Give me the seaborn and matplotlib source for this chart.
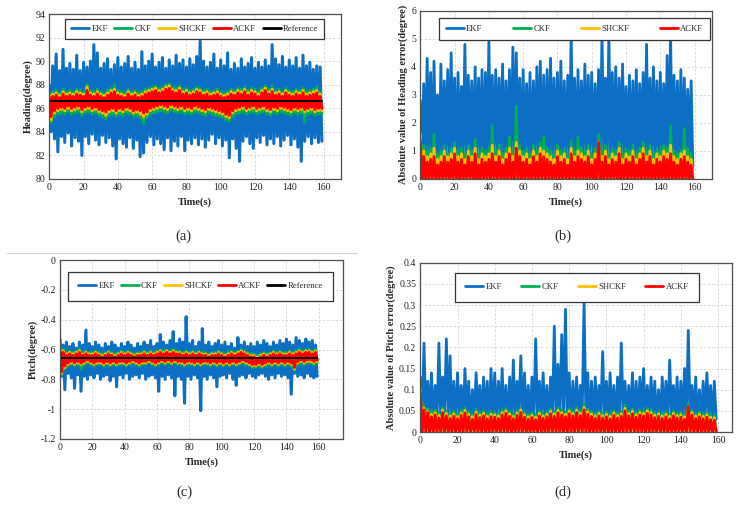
import numpy as np
import matplotlib
matplotlib.use('Agg')
import matplotlib.pyplot as plt
from matplotlib.lines import Line2D
import seaborn as sns

# ---- DATA (hi = sample at even second, lo = next odd second) ----
times = np.arange(0, 160, 2)

filters = ['EKF', 'CKF', 'SHCKF', 'ACKF']
colors = {'EKF': '#0b6fc4', 'CKF': '#00b050', 'SHCKF': '#ffc000', 'ACKF': '#ff0000', 'Reference': '#000000'}

# (a) heading
hdg_reference = 86.65
hdg_ekf_hi = [88.0, 89.6, 90.6, 89.2, 91.0, 89.4, 89.8, 89.3, 90.5, 89.2,
              89.9, 89.5, 90.0, 91.4, 90.7, 89.4, 89.8, 90.2, 89.3, 89.7,
              90.3, 89.5, 89.8, 90.4, 89.4, 89.9, 89.3, 90.8, 89.6, 90.0,
              90.6, 89.5, 89.9, 90.3, 89.4, 90.1, 89.6, 90.5, 89.8, 90.1,
              89.5, 90.2, 89.7, 90.4, 91.7, 90.0, 89.5, 89.9, 90.6, 89.4,
              90.1, 89.6, 90.7, 89.3, 89.8, 89.4, 90.2, 89.5, 89.8, 90.3,
              89.4, 89.9, 89.5, 90.1, 89.6, 91.4, 90.2, 89.7, 90.4, 89.5,
              90.1, 89.6, 90.3, 89.4, 90.5, 89.6, 89.9, 89.3, 89.6, 89.5]
hdg_ekf_lo = [84.0, 83.4, 82.3, 83.6, 83.1, 83.9, 82.8, 83.5, 83.2, 82.0,
              83.6, 83.0, 83.8, 83.3, 82.9, 83.7, 83.1, 83.5, 82.8, 81.7,
              83.4, 83.0, 82.7, 83.5, 82.6, 83.3, 81.9, 82.2, 83.1, 83.6,
              82.9, 83.4, 83.0, 82.5, 83.5, 82.4, 83.2, 82.8, 83.6, 82.4,
              83.3, 83.0, 83.5, 82.9, 83.4, 82.7, 83.3, 83.8, 83.0, 83.5,
              82.8, 83.3, 81.8, 83.4, 82.6, 81.5, 83.2, 83.6, 83.0, 82.6,
              83.5, 83.1, 83.7, 82.9, 83.4, 83.0, 83.6, 82.8, 83.3, 83.7,
              82.9, 83.4, 82.7, 81.5, 83.2, 83.6, 83.0, 83.5, 83.1, 83.2]
hdg_ckf_hi = [87.3, 87.4, 87.5, 87.3, 87.6, 87.4, 87.5, 87.4, 87.6, 87.5,
              87.4, 88.0, 87.5, 87.4, 87.6, 87.4, 87.3, 87.5, 87.7, 88.0,
              87.5, 87.4, 87.3, 87.6, 87.4, 87.5, 87.3, 87.4, 87.6, 87.7,
              87.8, 87.9, 87.7, 87.8, 88.0, 88.1, 87.8, 87.7, 87.9, 87.6,
              87.7, 87.5, 87.6, 87.8, 87.7, 87.5, 87.6, 87.4, 87.5, 87.6,
              87.4, 87.3, 87.4, 87.6, 87.5, 87.7, 87.6, 87.8, 87.5, 87.7,
              87.6, 87.4, 87.7, 87.9, 87.6, 87.9, 87.5, 87.6, 87.4, 87.7,
              87.5, 87.4, 87.6, 87.5, 87.7, 87.4, 87.5, 87.6, 87.8, 87.4]
hdg_ckf_lo = [84.8, 85.3, 85.5, 85.6, 85.5, 85.7, 85.5, 85.6, 85.7, 85.4,
              85.6, 85.7, 85.5, 85.6, 85.4, 85.3, 85.1, 85.4, 85.5, 85.3,
              85.5, 85.4, 85.6, 85.5, 85.3, 85.4, 85.2, 84.7, 85.2, 85.5,
              85.6, 85.7, 85.8, 85.7, 85.6, 85.8, 85.7, 85.6, 85.7, 85.5,
              85.6, 85.5, 85.7, 85.6, 85.5, 85.4, 85.6, 85.5, 85.4, 85.3,
              85.2, 85.0, 84.9, 85.3, 85.5, 85.6, 85.7, 85.5, 85.6, 85.7,
              85.5, 85.6, 85.7, 85.5, 85.4, 85.6, 85.5, 85.7, 85.6, 85.5,
              85.4, 85.6, 85.5, 85.6, 84.8, 85.5, 85.6, 85.4, 85.5, 85.5]
hdg_shckf_hi = [87.1, 87.2, 87.3, 87.1, 87.4, 87.2, 87.3, 87.2, 87.4, 87.3,
                87.2, 87.8, 87.3, 87.2, 87.4, 87.2, 87.1, 87.3, 87.5, 87.6,
                87.3, 87.2, 87.1, 87.4, 87.2, 87.3, 87.1, 87.2, 87.4, 87.5,
                87.6, 87.7, 87.5, 87.6, 87.8, 87.9, 87.6, 87.5, 87.7, 87.4,
                87.5, 87.3, 87.4, 87.6, 87.5, 87.3, 87.4, 87.2, 87.3, 87.4,
                87.2, 87.1, 87.2, 87.4, 87.3, 87.5, 87.4, 87.6, 87.3, 87.5,
                87.4, 87.2, 87.5, 87.7, 87.4, 87.6, 87.3, 87.4, 87.2, 87.5,
                87.3, 87.2, 87.4, 87.3, 87.5, 87.2, 87.3, 87.4, 87.5, 87.2]
hdg_shckf_lo = [85.0, 85.6, 85.8, 85.9, 85.8, 86.0, 85.8, 85.9, 86.0, 85.7,
                85.9, 86.0, 85.8, 85.9, 85.7, 85.6, 85.4, 85.7, 85.8, 85.6,
                85.8, 85.7, 85.9, 85.8, 85.6, 85.7, 85.5, 85.3, 85.5, 85.8,
                85.9, 86.0, 86.1, 86.0, 85.9, 86.1, 86.0, 85.9, 86.0, 85.8,
                85.9, 85.8, 86.0, 85.9, 85.8, 85.7, 85.9, 85.8, 85.7, 85.6,
                85.5, 85.3, 85.2, 85.6, 85.8, 85.9, 86.0, 85.8, 85.9, 86.0,
                85.8, 85.9, 86.0, 85.8, 85.7, 85.9, 85.8, 86.0, 85.9, 85.8,
                85.7, 85.9, 85.8, 85.9, 85.7, 85.8, 85.9, 85.7, 85.8, 85.8]
hdg_ackf_hi = [86.9, 87.0, 87.1, 86.9, 87.2, 87.0, 87.1, 87.0, 87.2, 87.1,
               87.0, 87.5, 87.1, 87.0, 87.2, 87.0, 86.9, 87.1, 87.3, 87.4,
               87.1, 87.0, 86.9, 87.2, 87.0, 87.1, 86.9, 87.0, 87.2, 87.3,
               87.4, 87.5, 87.3, 87.4, 87.6, 87.7, 87.4, 87.3, 87.5, 87.2,
               87.3, 87.1, 87.2, 87.4, 87.3, 87.1, 87.2, 87.0, 87.1, 87.2,
               87.0, 86.9, 87.0, 87.2, 87.1, 87.3, 87.2, 87.4, 87.1, 87.3,
               87.2, 87.0, 87.3, 87.5, 87.2, 87.4, 87.1, 87.2, 87.0, 87.3,
               87.1, 87.0, 87.2, 87.1, 87.3, 87.0, 87.1, 87.2, 87.3, 87.0]
hdg_ackf_lo = [85.3, 85.8, 86.0, 86.1, 86.0, 86.2, 86.0, 86.1, 86.2, 85.9,
               86.1, 86.2, 86.0, 86.1, 85.9, 85.8, 85.7, 85.9, 86.0, 85.8,
               86.0, 85.9, 86.1, 86.0, 85.8, 85.9, 85.8, 85.6, 85.7, 86.0,
               86.1, 86.2, 86.3, 86.2, 86.1, 86.3, 86.2, 86.1, 86.2, 86.0,
               86.1, 86.0, 86.2, 86.1, 86.0, 85.9, 86.1, 86.0, 85.9, 85.8,
               85.7, 85.5, 85.4, 85.8, 86.0, 86.1, 86.2, 86.0, 86.1, 86.2,
               86.0, 86.1, 86.2, 86.0, 85.9, 86.1, 86.0, 86.2, 86.1, 86.0,
               85.9, 86.1, 86.0, 86.1, 85.9, 86.0, 86.1, 85.9, 86.0, 86.0]

# (b) absolute heading error (peaks; troughs reach zero for the filtered ones)
err_floor = 0.0
herr_ekf_hi = [2.8, 3.4, 4.3, 3.8, 4.2, 3.0, 4.1, 3.5, 3.9, 4.5,
               3.6, 3.8, 3.3, 4.8, 3.7, 3.5, 4.0, 3.6, 3.9, 3.8,
               4.9, 3.7, 3.9, 3.6, 4.1, 3.5, 3.9, 4.7, 4.5, 3.6,
               3.9, 3.4, 3.8, 3.5, 4.0, 4.2, 3.7, 3.9, 4.3, 3.6,
               3.8, 4.2, 3.5, 3.7, 5.2, 3.6, 3.9, 3.5, 4.1, 3.7,
               3.8, 3.4, 3.9, 5.2, 3.6, 5.2, 3.8, 4.0, 3.6, 4.1,
               3.3, 3.7, 3.5, 3.9, 3.4, 3.8, 4.8, 3.6, 4.0, 3.5,
               3.8, 3.4, 4.4, 5.2, 3.7, 3.5, 3.9, 3.6, 3.2, 3.5]
herr_ekf_lo = [0.6, 0.4, 0.8, 0.5, 0.7, 0.3, 0.6, 0.9, 0.5, 0.7,
               0.4, 0.8, 0.6, 0.5, 0.7, 0.3, 0.6, 0.8, 0.5, 0.4,
               0.7, 0.5, 0.9, 0.6, 0.4, 0.7, 0.5, 0.8, 0.6, 0.3,
               0.5, 0.7, 0.4, 0.8, 0.6, 0.5, 0.7, 0.4, 0.6, 0.8,
               0.5, 0.3, 0.7, 0.6, 0.8, 0.4, 0.6, 0.5, 0.7, 0.9,
               0.4, 0.6, 0.5, 0.8, 0.3, 0.7, 0.6, 0.4, 0.8, 0.5,
               0.7, 0.5, 0.6, 0.4, 0.8, 0.6, 0.3, 0.7, 0.5, 0.6,
               0.8, 0.4, 0.6, 0.5, 0.7, 0.3, 0.6, 0.8, 0.5, 0.4]
herr_ckf_hi = [1.7, 1.2, 1.0, 1.1, 1.6, 0.9, 1.0, 1.2, 0.9, 1.1,
               1.3, 1.0, 1.1, 0.9, 1.2, 1.0, 1.4, 0.9, 1.1, 1.0,
               1.1, 1.9, 1.0, 1.2, 0.9, 1.1, 1.5, 1.0, 2.6, 1.2,
               1.0, 1.1, 0.9, 1.2, 1.0, 1.3, 1.5, 1.1, 1.0, 0.9,
               1.2, 1.0, 1.1, 0.9, 1.3, 1.0, 1.5, 1.1, 1.0, 1.2,
               0.9, 1.1, 1.6, 1.0, 1.2, 0.9, 1.1, 1.0, 1.3, 0.9,
               1.1, 1.0, 1.2, 0.9, 1.1, 1.3, 1.0, 1.2, 0.9, 1.1,
               1.0, 1.2, 1.1, 1.9, 1.0, 0.9, 1.0, 1.8, 1.1, 0.9]
herr_shckf_hi = [1.6, 1.0, 0.8, 0.9, 1.1, 0.7, 0.8, 1.0, 0.8, 0.9,
                 1.1, 0.8, 0.9, 0.7, 1.0, 0.8, 1.1, 0.7, 0.9, 0.8,
                 0.9, 1.2, 0.8, 1.0, 0.7, 0.9, 1.1, 0.8, 1.3, 1.0,
                 0.8, 0.9, 0.7, 1.0, 0.8, 1.1, 1.0, 0.9, 0.8, 0.7,
                 1.0, 0.8, 0.9, 0.7, 1.1, 0.8, 1.0, 0.9, 0.8, 1.0,
                 0.7, 0.9, 1.3, 0.8, 1.0, 0.7, 0.9, 0.8, 1.1, 0.7,
                 0.9, 0.8, 1.0, 0.7, 0.9, 1.1, 0.8, 1.0, 0.7, 0.9,
                 0.8, 1.0, 0.9, 1.2, 0.8, 0.7, 0.9, 1.0, 0.8, 0.7]
herr_ackf_hi = [1.4, 0.8, 0.6, 0.7, 0.8, 0.5, 0.6, 0.8, 0.6, 0.7,
                0.9, 0.6, 0.7, 0.5, 0.8, 0.6, 0.9, 0.5, 0.7, 0.6,
                0.7, 0.9, 0.6, 0.8, 0.5, 0.7, 0.9, 0.6, 1.1, 0.8,
                0.6, 0.7, 0.5, 0.8, 0.6, 0.9, 0.8, 0.7, 0.6, 0.5,
                0.8, 0.6, 0.7, 0.5, 0.9, 0.6, 0.8, 0.7, 0.6, 0.8,
                0.5, 0.7, 1.3, 0.6, 0.8, 0.5, 0.7, 0.6, 0.9, 0.5,
                0.7, 0.6, 0.8, 0.5, 0.7, 0.9, 0.6, 0.8, 0.5, 0.7,
                0.6, 0.8, 0.7, 0.9, 0.6, 0.5, 0.7, 0.8, 0.6, 0.5]

# (c) pitch
pit_reference = -0.655
pit_ekf_hi = [-0.53, -0.57, -0.55, -0.58, -0.56, -0.59, -0.55, -0.57, -0.47, -0.56,
              -0.58, -0.55, -0.57, -0.59, -0.56, -0.58, -0.55, -0.57, -0.59, -0.56,
              -0.58, -0.55, -0.57, -0.59, -0.56, -0.58, -0.55, -0.57, -0.54, -0.58,
              -0.56, -0.50, -0.55, -0.57, -0.54, -0.48, -0.56, -0.53, -0.55, -0.38,
              -0.56, -0.54, -0.58, -0.55, -0.46, -0.57, -0.55, -0.58, -0.56, -0.54,
              -0.57, -0.55, -0.58, -0.56, -0.59, -0.52, -0.57, -0.55, -0.58, -0.56,
              -0.58, -0.55, -0.57, -0.54, -0.56, -0.58, -0.55, -0.57, -0.54, -0.56,
              -0.53, -0.55, -0.57, -0.52, -0.54, -0.56, -0.53, -0.55, -0.54, -0.57]
pit_ekf_lo = [-0.78, -0.87, -0.76, -0.79, -0.86, -0.77, -0.88, -0.78, -0.80, -0.77,
              -0.79, -0.76, -0.80, -0.78, -0.77, -0.81, -0.78, -0.85, -0.77, -0.79,
              -0.76, -0.80, -0.78, -0.77, -0.79, -0.76, -0.80, -0.78, -0.77, -0.79,
              -0.88, -0.78, -0.80, -0.77, -0.79, -0.91, -0.78, -0.80, -0.96, -0.78,
              -0.80, -0.77, -0.79, -1.01, -0.78, -0.80, -0.77, -0.79, -0.85, -0.78,
              -0.77, -0.79, -0.76, -0.80, -0.84, -0.78, -0.77, -0.79, -0.76, -0.78,
              -0.79, -0.77, -0.76, -0.78, -0.80, -0.77, -0.79, -0.76, -0.78, -0.77,
              -0.79, -0.90, -0.76, -0.78, -0.77, -0.79, -0.76, -0.78, -0.79, -0.78]
pit_ckf_hi = [-0.59, -0.60, -0.62, -0.61, -0.62, -0.61, -0.60, -0.62, -0.61, -0.62,
              -0.62, -0.61, -0.62, -0.63, -0.62, -0.61, -0.62, -0.63, -0.62, -0.61,
              -0.62, -0.61, -0.62, -0.63, -0.62, -0.62, -0.61, -0.62, -0.61, -0.62,
              -0.61, -0.60, -0.61, -0.60, -0.61, -0.60, -0.61, -0.61, -0.62, -0.61,
              -0.62, -0.61, -0.62, -0.61, -0.62, -0.62, -0.63, -0.62, -0.62, -0.61,
              -0.62, -0.63, -0.62, -0.61, -0.62, -0.61, -0.60, -0.61, -0.62, -0.63,
              -0.63, -0.64, -0.63, -0.62, -0.63, -0.62, -0.61, -0.62, -0.61, -0.62,
              -0.62, -0.61, -0.62, -0.61, -0.60, -0.61, -0.60, -0.60, -0.61, -0.60]
pit_ckf_lo = [-0.77, -0.73, -0.71, -0.70, -0.71, -0.70, -0.73, -0.70, -0.69, -0.70,
              -0.71, -0.70, -0.70, -0.71, -0.70, -0.71, -0.70, -0.71, -0.70, -0.70,
              -0.71, -0.70, -0.69, -0.70, -0.71, -0.70, -0.70, -0.69, -0.70, -0.71,
              -0.70, -0.69, -0.70, -0.69, -0.70, -0.69, -0.70, -0.70, -0.71, -0.70,
              -0.70, -0.71, -0.70, -0.71, -0.70, -0.70, -0.71, -0.70, -0.71, -0.70,
              -0.71, -0.70, -0.71, -0.70, -0.71, -0.70, -0.69, -0.70, -0.71, -0.72,
              -0.72, -0.71, -0.72, -0.71, -0.70, -0.71, -0.70, -0.71, -0.70, -0.71,
              -0.70, -0.71, -0.74, -0.70, -0.69, -0.70, -0.69, -0.69, -0.70, -0.69]
pit_shckf_hi = [-0.60, -0.61, -0.63, -0.62, -0.63, -0.62, -0.61, -0.63, -0.62, -0.63,
                -0.63, -0.62, -0.63, -0.64, -0.63, -0.62, -0.63, -0.64, -0.63, -0.62,
                -0.63, -0.62, -0.63, -0.64, -0.63, -0.63, -0.62, -0.63, -0.62, -0.63,
                -0.62, -0.61, -0.62, -0.61, -0.62, -0.61, -0.62, -0.62, -0.63, -0.62,
                -0.63, -0.62, -0.63, -0.62, -0.63, -0.63, -0.64, -0.63, -0.63, -0.62,
                -0.63, -0.64, -0.63, -0.62, -0.63, -0.62, -0.61, -0.62, -0.63, -0.64,
                -0.64, -0.65, -0.64, -0.63, -0.64, -0.63, -0.62, -0.63, -0.62, -0.63,
                -0.63, -0.62, -0.63, -0.62, -0.61, -0.62, -0.61, -0.61, -0.62, -0.61]
pit_shckf_lo = [-0.76, -0.72, -0.70, -0.69, -0.70, -0.69, -0.70, -0.69, -0.68, -0.69,
                -0.70, -0.69, -0.69, -0.70, -0.69, -0.70, -0.69, -0.70, -0.69, -0.69,
                -0.70, -0.69, -0.68, -0.69, -0.70, -0.69, -0.69, -0.68, -0.69, -0.70,
                -0.69, -0.68, -0.69, -0.68, -0.69, -0.68, -0.69, -0.69, -0.70, -0.69,
                -0.69, -0.70, -0.69, -0.70, -0.69, -0.69, -0.70, -0.69, -0.70, -0.69,
                -0.70, -0.69, -0.70, -0.69, -0.70, -0.69, -0.68, -0.69, -0.70, -0.71,
                -0.71, -0.70, -0.71, -0.70, -0.69, -0.70, -0.69, -0.70, -0.69, -0.70,
                -0.69, -0.70, -0.73, -0.69, -0.68, -0.69, -0.68, -0.68, -0.69, -0.68]
pit_ackf_hi = [-0.61, -0.62, -0.64, -0.63, -0.64, -0.63, -0.62, -0.64, -0.63, -0.64,
               -0.64, -0.63, -0.64, -0.65, -0.64, -0.63, -0.64, -0.65, -0.64, -0.63,
               -0.64, -0.63, -0.64, -0.65, -0.64, -0.64, -0.63, -0.64, -0.63, -0.64,
               -0.63, -0.62, -0.63, -0.62, -0.63, -0.62, -0.63, -0.63, -0.64, -0.63,
               -0.64, -0.63, -0.64, -0.63, -0.64, -0.64, -0.65, -0.64, -0.64, -0.63,
               -0.64, -0.65, -0.64, -0.63, -0.64, -0.63, -0.62, -0.63, -0.64, -0.65,
               -0.65, -0.66, -0.65, -0.64, -0.65, -0.64, -0.63, -0.64, -0.63, -0.64,
               -0.64, -0.63, -0.64, -0.63, -0.62, -0.63, -0.62, -0.62, -0.63, -0.62]
pit_ackf_lo = [-0.75, -0.71, -0.69, -0.68, -0.69, -0.68, -0.69, -0.68, -0.67, -0.68,
               -0.69, -0.68, -0.68, -0.69, -0.68, -0.69, -0.68, -0.69, -0.68, -0.68,
               -0.69, -0.68, -0.67, -0.68, -0.69, -0.68, -0.68, -0.67, -0.68, -0.69,
               -0.68, -0.67, -0.68, -0.67, -0.68, -0.67, -0.68, -0.68, -0.69, -0.68,
               -0.68, -0.69, -0.68, -0.69, -0.68, -0.68, -0.69, -0.68, -0.69, -0.68,
               -0.69, -0.68, -0.69, -0.68, -0.69, -0.68, -0.67, -0.68, -0.69, -0.70,
               -0.70, -0.69, -0.70, -0.69, -0.68, -0.69, -0.68, -0.69, -0.68, -0.69,
               -0.68, -0.69, -0.72, -0.68, -0.67, -0.68, -0.67, -0.67, -0.68, -0.67]

# (d) absolute pitch error
perr_ekf_hi = [0.13, 0.21, 0.12, 0.14, 0.11, 0.21, 0.13, 0.22, 0.18, 0.12,
               0.14, 0.11, 0.15, 0.12, 0.10, 0.14, 0.11, 0.13, 0.12, 0.15,
               0.14, 0.12, 0.15, 0.11, 0.13, 0.17, 0.12, 0.18, 0.14, 0.11,
               0.13, 0.22, 0.12, 0.14, 0.11, 0.13, 0.25, 0.16, 0.23, 0.29,
               0.14, 0.12, 0.13, 0.11, 0.31, 0.14, 0.12, 0.13, 0.11, 0.19,
               0.12, 0.14, 0.11, 0.13, 0.21, 0.12, 0.11, 0.14, 0.12, 0.13,
               0.15, 0.11, 0.13, 0.12, 0.10, 0.13, 0.12, 0.17, 0.11, 0.13,
               0.12, 0.15, 0.24, 0.11, 0.13, 0.10, 0.12, 0.14, 0.11, 0.12]
perr_ekf_lo = [0.03, 0.02, 0.04, 0.01, 0.03, 0.02, 0.04, 0.03, 0.01, 0.02,
               0.04, 0.02, 0.03, 0.01, 0.03, 0.04, 0.02, 0.03, 0.01, 0.02,
               0.03, 0.04, 0.02, 0.01, 0.03, 0.02, 0.04, 0.03, 0.02, 0.01,
               0.02, 0.03, 0.04, 0.02, 0.01, 0.03, 0.02, 0.04, 0.03, 0.02,
               0.01, 0.03, 0.02, 0.04, 0.03, 0.01, 0.02, 0.03, 0.04, 0.02,
               0.03, 0.02, 0.01, 0.03, 0.04, 0.02, 0.03, 0.01, 0.02, 0.04,
               0.02, 0.03, 0.04, 0.01, 0.02, 0.03, 0.02, 0.04, 0.03, 0.01,
               0.03, 0.02, 0.04, 0.03, 0.01, 0.02, 0.03, 0.04, 0.02, 0.03]
perr_ckf_hi = [0.100, 0.062, 0.055, 0.048, 0.052, 0.045, 0.058, 0.050, 0.044, 0.049,
               0.043, 0.051, 0.057, 0.048, 0.042, 0.053, 0.046, 0.050, 0.043, 0.048,
               0.047, 0.044, 0.052, 0.056, 0.049, 0.043, 0.051, 0.058, 0.047, 0.042,
               0.046, 0.041, 0.050, 0.044, 0.048, 0.055, 0.049, 0.057, 0.052, 0.048,
               0.055, 0.050, 0.058, 0.051, 0.066, 0.054, 0.049, 0.044, 0.050, 0.045,
               0.048, 0.043, 0.051, 0.045, 0.049, 0.064, 0.050, 0.055, 0.047, 0.052,
               0.050, 0.056, 0.052, 0.046, 0.049, 0.044, 0.048, 0.043, 0.050, 0.045,
               0.047, 0.042, 0.066, 0.052, 0.044, 0.048, 0.043, 0.047, 0.041, 0.040]
perr_shckf_hi = [0.098, 0.056, 0.049, 0.042, 0.046, 0.039, 0.052, 0.044, 0.038, 0.043,
                 0.037, 0.045, 0.051, 0.042, 0.036, 0.047, 0.040, 0.044, 0.037, 0.042,
                 0.041, 0.038, 0.046, 0.050, 0.043, 0.037, 0.045, 0.052, 0.041, 0.036,
                 0.040, 0.035, 0.044, 0.038, 0.042, 0.049, 0.043, 0.051, 0.046, 0.042,
                 0.049, 0.044, 0.052, 0.045, 0.058, 0.048, 0.043, 0.038, 0.044, 0.039,
                 0.042, 0.037, 0.045, 0.039, 0.043, 0.056, 0.044, 0.049, 0.041, 0.046,
                 0.044, 0.050, 0.046, 0.040, 0.043, 0.038, 0.042, 0.037, 0.044, 0.039,
                 0.041, 0.036, 0.060, 0.046, 0.038, 0.042, 0.037, 0.041, 0.035, 0.034]
perr_ackf_hi = [0.095, 0.052, 0.046, 0.036, 0.040, 0.033, 0.046, 0.038, 0.032, 0.037,
                0.031, 0.039, 0.045, 0.036, 0.030, 0.041, 0.034, 0.038, 0.031, 0.036,
                0.035, 0.032, 0.040, 0.044, 0.037, 0.031, 0.039, 0.046, 0.035, 0.030,
                0.034, 0.029, 0.038, 0.032, 0.036, 0.043, 0.037, 0.045, 0.040, 0.036,
                0.043, 0.038, 0.046, 0.039, 0.052, 0.042, 0.037, 0.032, 0.038, 0.033,
                0.036, 0.031, 0.039, 0.033, 0.037, 0.050, 0.038, 0.043, 0.035, 0.040,
                0.038, 0.044, 0.040, 0.034, 0.037, 0.032, 0.036, 0.031, 0.038, 0.033,
                0.035, 0.030, 0.060, 0.040, 0.032, 0.036, 0.031, 0.035, 0.029, 0.028]

x_ticks = [0, 20, 40, 60, 80, 100, 120, 140, 160]


def zigzag(hi, lo):
    # peaks at the even seconds, troughs at the following odd seconds
    t = np.empty(2 * len(times))
    y = np.empty(2 * len(times))
    t[0::2] = times
    t[1::2] = times + 1
    y[0::2] = hi
    y[1::2] = lo
    return t, y


# ---- STYLE ----
sns.set_theme(style='white')
plt.rcParams['font.family'] = ['Liberation Serif', 'DejaVu Serif']
plt.rcParams['axes.unicode_minus'] = False

fig = plt.figure(figsize=(7.42, 5.13), dpi=100)
W, H = 742, 513


def make_axes(left, top, right, bottom):
    return fig.add_axes([left / W, 1 - bottom / H, (right - left) / W, (bottom - top) / H])


def style_axes(ax, xmax, yticks, ylabel):
    ax.set_xlim(0, xmax)
    ax.set_ylim(yticks[0], yticks[-1])
    ax.set_xticks(x_ticks)
    ax.set_yticks(yticks)
    ax.set_yticklabels(['{:g}'.format(v) for v in yticks])
    ax.grid(True, color='#d6d6d6', linestyle=(0, (3, 2)), linewidth=0.6)
    ax.set_axisbelow(True)
    for s in ax.spines.values():
        s.set_color('#4d4d4d')
        s.set_linewidth(0.9)
    ax.tick_params(length=0, pad=3, labelsize=7, colors='#222222')
    ax.set_xlabel('Time(s)', fontsize=7.5, fontweight='bold', labelpad=4)
    ax.set_ylabel(ylabel, fontsize=7.5, fontweight='bold', labelpad=2)


def add_legend(ax, names, bbox, pad):
    handles = [Line2D([], [], color=colors[n], lw=2) for n in names]
    leg = ax.legend(handles, names, ncol=len(names), loc='upper left', bbox_to_anchor=bbox,
                    mode='expand', fontsize=6.2, handlelength=2.1, handletextpad=0.25,
                    borderpad=pad, frameon=True, fancybox=False, framealpha=1,
                    borderaxespad=0)
    leg.get_frame().set_edgecolor('#333333')
    leg.get_frame().set_linewidth(0.9)


def band_panel(ax, series, lw):
    for name, hi, lo in series:
        t, y = zigzag(hi, lo)
        sns.lineplot(x=t, y=y, estimator=None, sort=False, color=colors[name],
                     linewidth=lw, ax=ax, legend=False)


# (a)
ax_a = make_axes(49.3, 14, 340.7, 179)
band_panel(ax_a, [('EKF', hdg_ekf_hi, hdg_ekf_lo), ('CKF', hdg_ckf_hi, hdg_ckf_lo),
                  ('SHCKF', hdg_shckf_hi, hdg_shckf_lo), ('ACKF', hdg_ackf_hi, hdg_ackf_lo)], 2.2)
sns.lineplot(x=[times[0], times[-1] + 1], y=[hdg_reference, hdg_reference], color='black',
             linewidth=1.4, ax=ax_a, legend=False)
style_axes(ax_a, 170, [80, 82, 84, 86, 88, 90, 92, 94], 'Heading(degree)')
add_legend(ax_a, filters + ['Reference'], (0.054, 0.836, 0.889, 0.134), 0.7)

# (b)
ax_b = make_axes(420.3, 10.7, 711.7, 179)
floor = [err_floor] * len(times)
band_panel(ax_b, [('EKF', herr_ekf_hi, herr_ekf_lo), ('CKF', herr_ckf_hi, floor),
                  ('SHCKF', herr_shckf_hi, floor), ('ACKF', herr_ackf_hi, floor)], 2.0)
style_axes(ax_b, 170, [0, 1, 2, 3, 4, 5, 6], 'Absolute value of Heading error(degree)')
add_legend(ax_b, filters, (0.064, 0.82, 0.93, 0.137), 0.8)

# (c)
ax_c = make_axes(60, 260, 343, 439)
band_panel(ax_c, [('EKF', pit_ekf_hi, pit_ekf_lo), ('CKF', pit_ckf_hi, pit_ckf_lo),
                  ('SHCKF', pit_shckf_hi, pit_shckf_lo), ('ACKF', pit_ackf_hi, pit_ackf_lo)], 2.2)
sns.lineplot(x=[times[0], times[-1] + 1], y=[pit_reference, pit_reference], color='black',
             linewidth=1.4, ax=ax_c, legend=False)
style_axes(ax_c, 175, [-1.2, -1, -0.8, -0.6, -0.4, -0.2, 0], 'Pitch(degree)')
add_legend(ax_c, filters + ['Reference'], (0.028, 0.765, 0.936, 0.168), 1.2)

# (d)
ax_d = make_axes(420.3, 262.7, 732, 432)
band_panel(ax_d, [('EKF', perr_ekf_hi, perr_ekf_lo), ('CKF', perr_ckf_hi, floor),
                  ('SHCKF', perr_shckf_hi, floor), ('ACKF', perr_ackf_hi, floor)], 2.0)
style_axes(ax_d, 167.5, [0, 0.05, 0.1, 0.15, 0.2, 0.25, 0.3, 0.35, 0.4],
           'Absolute value of Pitch error(degree)')
add_legend(ax_d, filters, (0.111, 0.762, 0.783, 0.177), 1.2)

# sub captions and separator
for lab, x, y in [('(a)', 183, 236), ('(b)', 563, 236), ('(c)', 184, 492), ('(d)', 563, 492)]:
    fig.text(x / W, 1 - y / H, lab, ha='center', va='center', fontsize=10.5)
fig.add_artist(Line2D([7 / W, 357 / W], [1 - 253 / H, 1 - 253 / H], color='#d0d0d0', lw=0.8))

fig.savefig('out.png', dpi=100)
